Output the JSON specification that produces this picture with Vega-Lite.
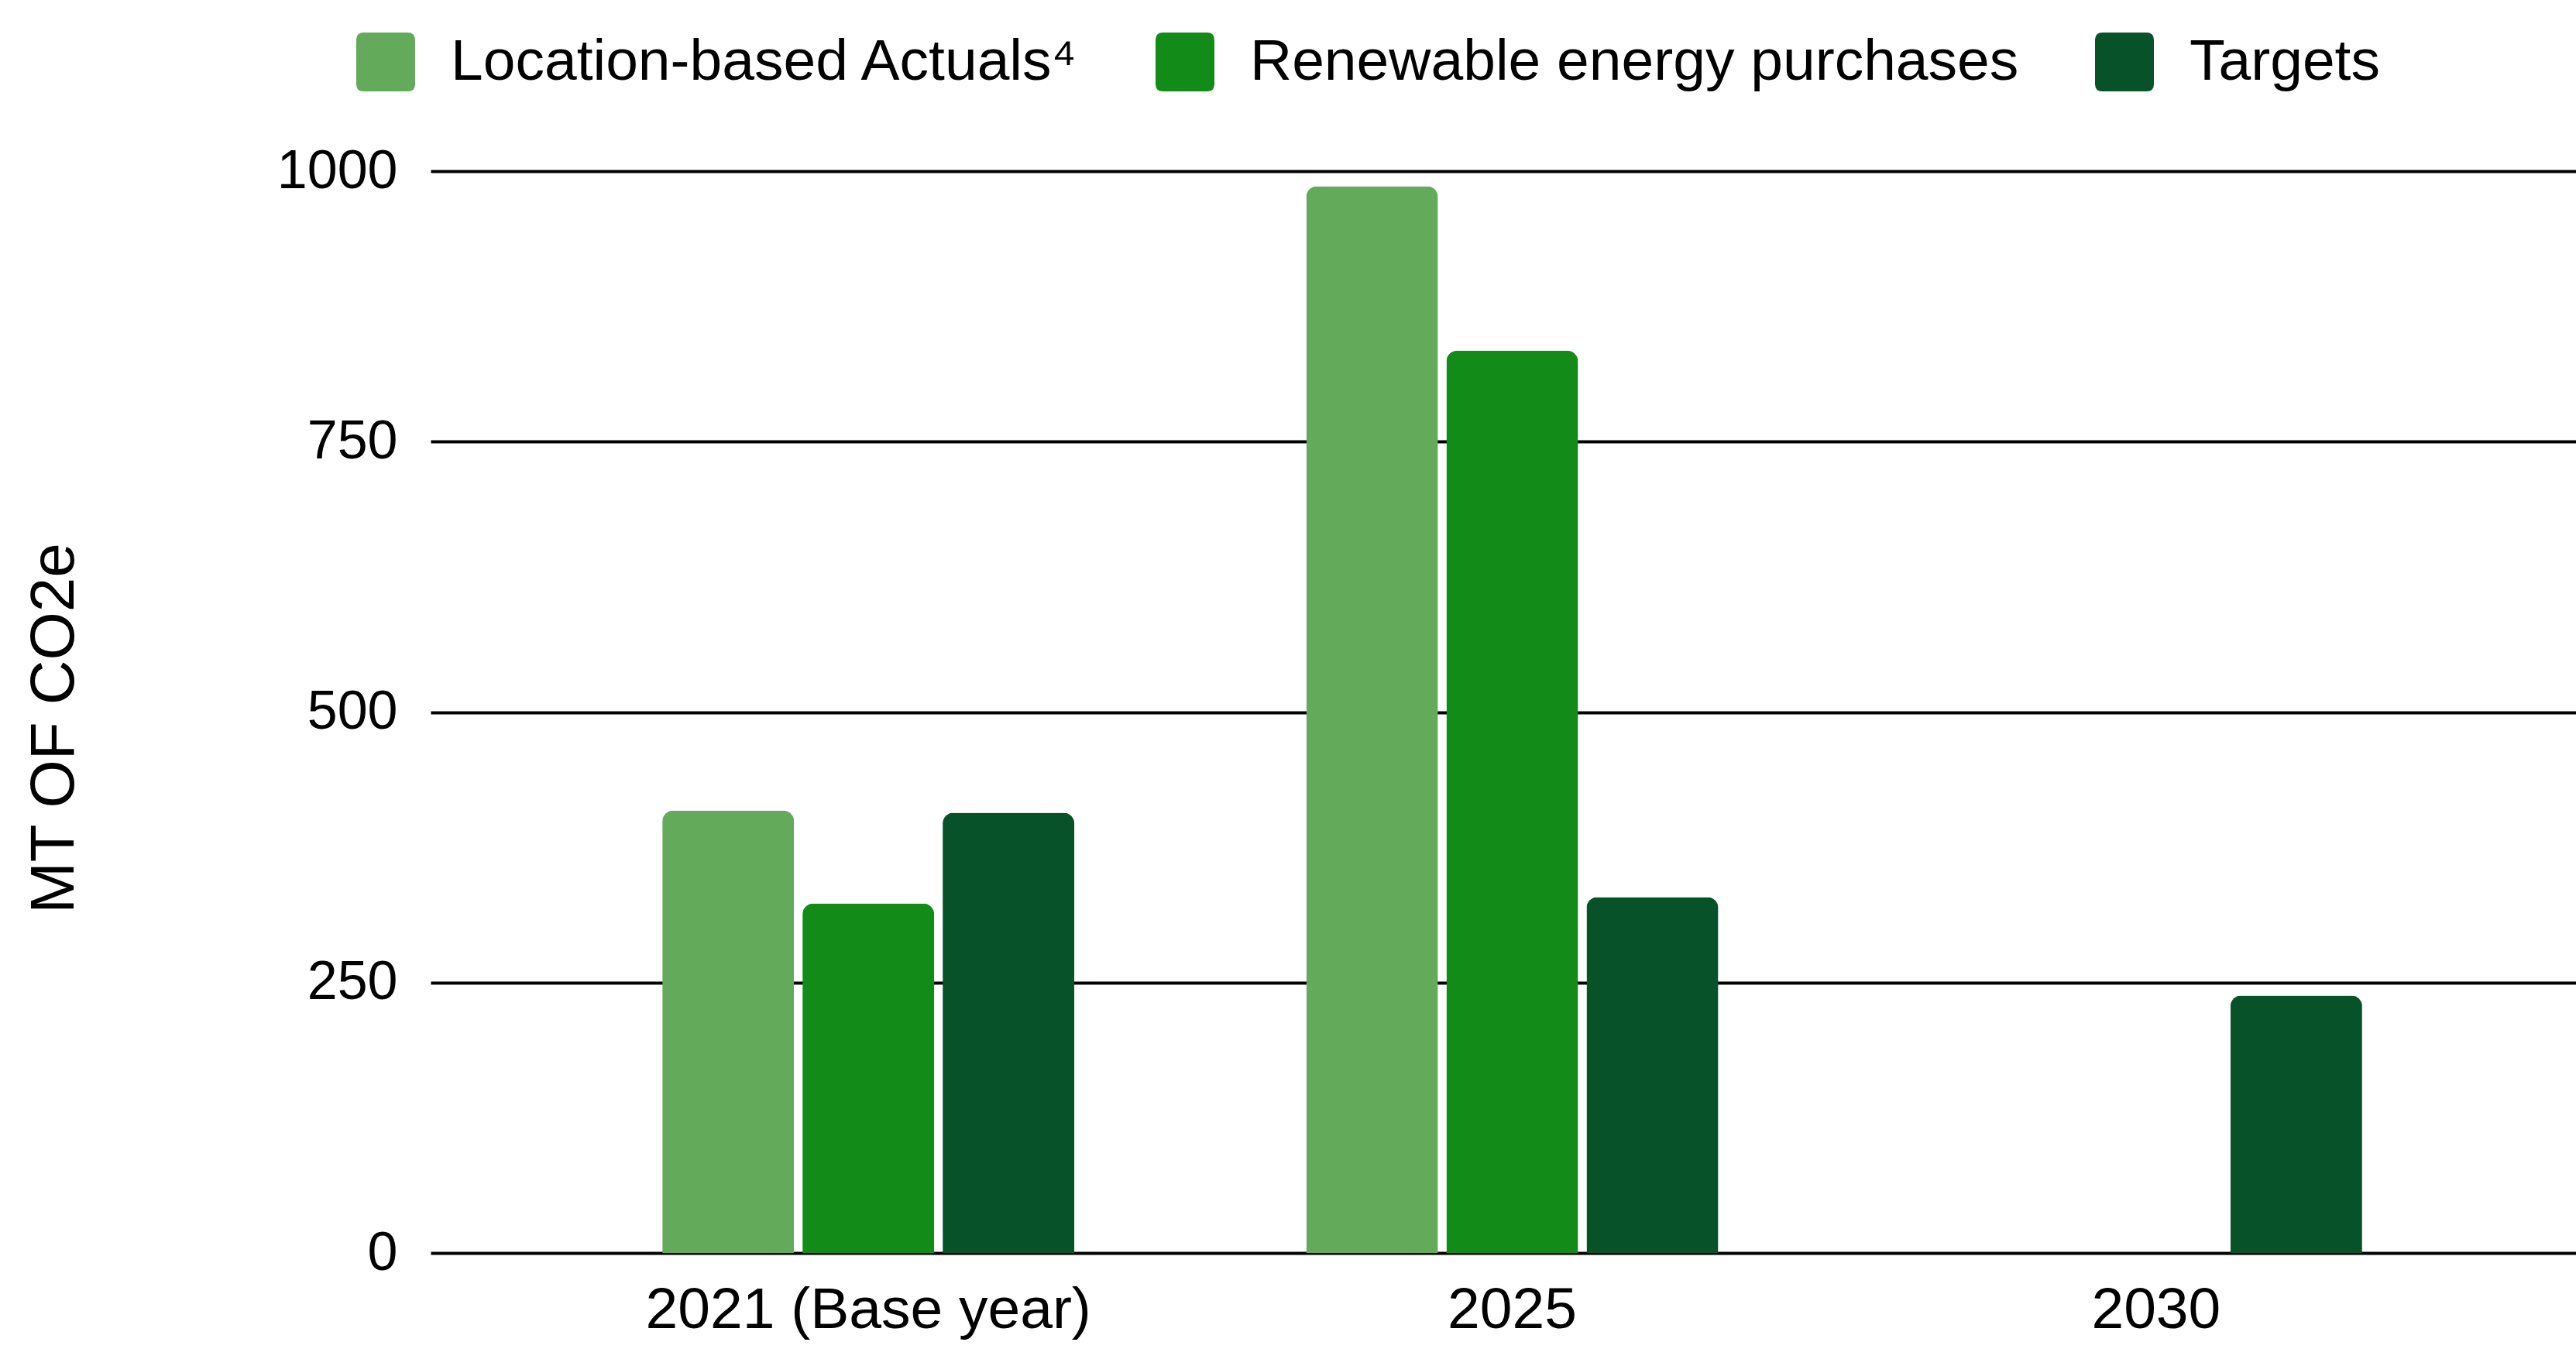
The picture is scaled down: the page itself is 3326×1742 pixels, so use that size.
{
  "$schema": "https://vega.github.io/schema/vega-lite/v6.json",
  "width": 2770,
  "height": 1397,
  "autosize": {"type": "none"},
  "padding": {"left": 556, "top": 221, "right": 0, "bottom": 124},
  "background": "white",
  "config": {"view": {"stroke": null}, "font": "Liberation Sans"},
  "data": {"values": [
    {"year": "2021 (Base year)", "series": "Location-based Actuals⁴", "value": 409},
    {"year": "2021 (Base year)", "series": "Renewable energy purchases", "value": 323},
    {"year": "2021 (Base year)", "series": "Targets", "value": 407},
    {"year": "2025", "series": "Location-based Actuals⁴", "value": 986},
    {"year": "2025", "series": "Renewable energy purchases", "value": 834},
    {"year": "2025", "series": "Targets", "value": 329},
    {"year": "2030", "series": "Targets", "value": 238}
  ]},
  "mark": {"type": "bar", "cornerRadiusTopLeft": 14, "cornerRadiusTopRight": 14},
  "encoding": {
    "x": {
      "field": "year", "type": "nominal",
      "sort": ["2021 (Base year)", "2025", "2030"],
      "scale": {"paddingInner": 0.36, "paddingOuter": 0.346, "align": 0.52},
      "axis": {"title": null, "labelAngle": 0, "domain": false, "ticks": false, "labelFontSize": 75, "labelColor": "black", "labelPadding": 37, "labelLimit": 2000}
    },
    "xOffset": {
      "field": "series", "type": "nominal",
      "scale": {"domain": ["Location-based Actuals⁴", "Renewable energy purchases", "Targets"], "paddingInner": 0.06, "paddingOuter": 0}
    },
    "y": {
      "field": "value", "type": "quantitative",
      "scale": {"domain": [0, 1000], "nice": false},
      "axis": {
        "values": [0, 250, 500, 750, 1000], "format": "d",
        "title": "MT OF CO2e", "domain": false, "ticks": false,
        "gridColor": "black", "gridWidth": 4, "gridOpacity": 1,
        "labelFontSize": 70, "labelColor": "black", "labelPadding": 43,
        "titleFontSize": 80, "titleFontWeight": "normal", "titleColor": "black",
        "titleX": -486, "titleY": 719, "titleAngle": -90, "titleAlign": "center", "titleBaseline": "middle"
      }
    },
    "color": {
      "field": "series", "type": "nominal",
      "scale": {"domain": ["Location-based Actuals⁴", "Renewable energy purchases", "Targets"], "range": ["#64AA5B", "#128B19", "#075228"]},
      "legend": {
        "orient": "none", "legendX": -96, "legendY": -179, "direction": "horizontal", "title": null,
        "symbolType": "M -1 -0.75 Q -1 -1 -0.75 -1 L 0.75 -1 Q 1 -1 1 -0.75 L 1 0.75 Q 1 1 0.75 1 L -0.75 1 Q -1 1 -1 0.75 Z",
        "symbolSize": 5776, "symbolStrokeWidth": 0, "symbolOpacity": 1,
        "labelFontSize": 75, "labelColor": "black", "labelOffset": 46,
        "columnPadding": 98, "padding": 0, "labelLimit": 2000
      }
    }
  }
}
